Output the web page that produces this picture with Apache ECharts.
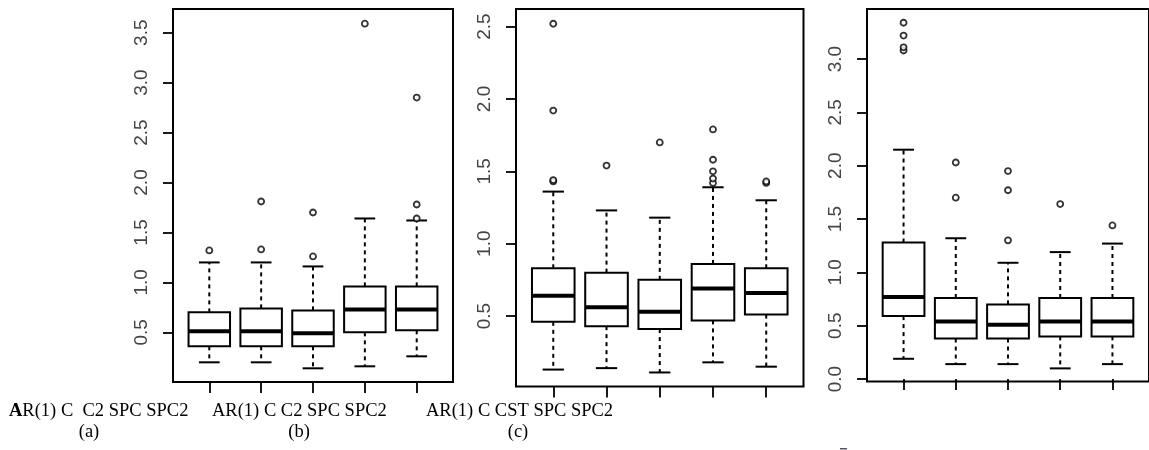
<!DOCTYPE html>
<html>
<head>
<meta charset="utf-8">
<script src="https://cdn.jsdelivr.net/npm/echarts@6/dist/echarts.min.js"></script>
<style>
  html, body { margin: 0; padding: 0; background: #fff; }
  #chart { width: 1149px; height: 450px; }
</style>
</head>
<body>
<div id="chart"></div>
<script>
// ---------------- data ----------------
const methodsA = ['AR(1)', 'C', 'C2', 'SPC', 'SPC2'];
const methodsB = ['AR(1)', 'C', 'C2', 'SPC', 'SPC2'];
const methodsC = ['AR(1)', 'C', 'CST', 'SPC', 'SPC2'];

// panel (a)
const lowA  = [0.20, 0.20, 0.14, 0.16, 0.26];
const q1A   = [0.36, 0.36, 0.36, 0.50, 0.52];
const medA  = [0.51, 0.51, 0.49, 0.73, 0.73];
const q3A   = [0.70, 0.74, 0.72, 0.96, 0.96];
const highA = [1.20, 1.20, 1.16, 1.64, 1.62];
const outA  = [[1, 1.32], [2, 1.33], [2, 1.81], [3, 1.26], [3, 1.70], [4, 3.59], [5, 1.64], [5, 1.78], [5, 2.85]];

// panel (b)
const lowB  = [0.13, 0.14, 0.11, 0.18, 0.15];
const q1B   = [0.46, 0.43, 0.41, 0.47, 0.51];
const medB  = [0.64, 0.56, 0.53, 0.69, 0.66];
const q3B   = [0.83, 0.80, 0.75, 0.86, 0.83];
const highB = [1.36, 1.23, 1.18, 1.39, 1.30];
const outB  = [[1, 1.43], [1, 1.44], [1, 1.92], [1, 2.52], [2, 1.54], [3, 1.70], [4, 1.42], [4, 1.45], [4, 1.50], [4, 1.58], [4, 1.79], [5, 1.42], [5, 1.43]];

// panel (c)
const lowC  = [0.19, 0.14, 0.14, 0.10, 0.14];
const q1C   = [0.59, 0.38, 0.38, 0.40, 0.40];
const medC  = [0.77, 0.54, 0.51, 0.54, 0.54];
const q3C   = [1.28, 0.76, 0.70, 0.76, 0.76];
const highC = [2.15, 1.32, 1.09, 1.19, 1.27];
const outC  = [[1, 3.08], [1, 3.11], [1, 3.22], [1, 3.34], [2, 1.70], [2, 2.03], [3, 1.30], [3, 1.77], [3, 1.95], [4, 1.64], [5, 1.44]];

// tick labels
const yTicksA = [0.5, 1.0, 1.5, 2.0, 2.5, 3.0, 3.5];
const yTicksB = [0.5, 1.0, 1.5, 2.0, 2.5];
const yTicksC = [0.0, 0.5, 1.0, 1.5, 2.0, 2.5, 3.0];
const xTicks  = [1, 2, 3, 4, 5];

// bottom captions
const captionA = 'AR(1) C  C2 SPC SPC2';
const captionB = 'AR(1) C C2 SPC SPC2';
const captionC = 'AR(1) C CST SPC SPC2';
const panelTags = ['(a)', '(b)', '(c)'];

// ---------------- build ----------------
function boxRows(methods, low, q1, med, q3, high) {
  return methods.map((m, i) => [i + 1, low[i], q1[i], med[i], q3[i], high[i]]);
}

const BOXW = 0.8, CAPW = 0.4;
function renderBox(params, api) {
  const x = api.value(0);
  const lo = api.value(1), a = api.value(2), md = api.value(3), b = api.value(4), hi = api.value(5);
  const half = api.size([BOXW, 0])[0] / 2;
  const capHalf = api.size([CAPW, 0])[0] / 2;
  const pLo = api.coord([x, lo]), pA = api.coord([x, a]), pM = api.coord([x, md]);
  const pB = api.coord([x, b]), pHi = api.coord([x, hi]);
  const cx = pM[0];
  const dashed = { stroke: '#000', lineWidth: 2, lineDash: [4, 4], fill: null };
  const solid = { stroke: '#000', lineWidth: 2, fill: null };
  return {
    type: 'group',
    children: [
      { type: 'line', shape: { x1: cx, y1: pB[1], x2: cx, y2: pHi[1] }, style: dashed },
      { type: 'line', shape: { x1: cx, y1: pA[1], x2: cx, y2: pLo[1] }, style: dashed },
      { type: 'line', shape: { x1: cx - capHalf, y1: pHi[1], x2: cx + capHalf, y2: pHi[1] }, style: solid },
      { type: 'line', shape: { x1: cx - capHalf, y1: pLo[1], x2: cx + capHalf, y2: pLo[1] }, style: solid },
      { type: 'rect', shape: { x: cx - half, y: pB[1], width: half * 2, height: pA[1] - pB[1] },
        style: { stroke: '#000', lineWidth: 2, fill: '#fff' } },
      { type: 'line', shape: { x1: cx - half, y1: pM[1], x2: cx + half, y2: pM[1] },
        style: { stroke: '#000', lineWidth: 4 } }
    ]
  };
}

const grids = [
  { left: 173, top: 9, width: 280, height: 373 },
  { left: 516, top: 9, width: 287.5, height: 377.5 },
  { left: 867, top: 9, width: 289, height: 372.5 }
].map(g => Object.assign(g, { show: true, borderColor: '#000', borderWidth: 2, backgroundColor: 'transparent' }));

const yRanges = [[0.003, 3.737], [0.013, 2.622], [-0.023, 3.469]];
const yTicks = [yTicksA, yTicksB, yTicksC];

const xAxes = grids.map((g, i) => ({
  type: 'value', gridIndex: i, min: 0.3, max: 5.7,
  axisLine: { show: false },
  splitLine: { show: false },
  axisLabel: { show: false },
  axisTick: { show: true, customValues: xTicks, length: 11, lineStyle: { color: '#000', width: 1.8 } }
}));

const yAxes = grids.map((g, i) => ({
  type: 'value', gridIndex: i, min: yRanges[i][0], max: yRanges[i][1],
  axisLine: { show: false },
  splitLine: { show: false },
  axisTick: { show: true, customValues: yTicks[i], length: 10, lineStyle: { color: '#000', width: 1.8 } },
  axisLabel: {
    show: true, customValues: yTicks[i], rotate: 90, margin: 22,
    formatter: v => Number(v).toFixed(1),
    fontFamily: 'Liberation Sans, Arial, sans-serif', fontSize: 19, color: '#444'
  }
}));

const boxData = [
  boxRows(methodsA, lowA, q1A, medA, q3A, highA),
  boxRows(methodsB, lowB, q1B, medB, q3B, highB),
  boxRows(methodsC, lowC, q1C, medC, q3C, highC)
];
const outData = [outA, outB, outC];

const series = [];
boxData.forEach((rows, i) => {
  series.push({
    type: 'custom', xAxisIndex: i, yAxisIndex: i, data: rows,
    renderItem: renderBox, encode: { x: 0, y: [1, 2, 3, 4, 5] }, z: 2, silent: true
  });
  series.push({
    type: 'scatter', xAxisIndex: i, yAxisIndex: i, data: outData[i],
    symbol: 'circle', symbolSize: 6,
    itemStyle: { color: '#fff', borderColor: '#000', borderWidth: 1.8 }, z: 3, silent: true
  });
});

const serif = 'Liberation Serif, Times New Roman, serif';
const capStyle = (t) => ({
  text: t, fontFamily: serif, fontSize: 18.5, fill: '#000', align: 'left', verticalAlign: 'middle',
  rich: { b: { fontFamily: serif, fontSize: 18.5, fontWeight: 'bold', fill: '#000' },
          n: { fontFamily: serif, fontSize: 18.5, fill: '#000' } }
});
const tagStyle = (t) => ({ text: t, fontFamily: serif, fontSize: 18.5, fill: '#000', align: 'center', verticalAlign: 'middle' });

const graphic = [
  { type: 'text', x: 9, y: 411, style: capStyle('{b|' + captionA.charAt(0) + '}{n|' + captionA.slice(1) + '}') },
  { type: 'text', x: 212, y: 411, style: capStyle(captionB) },
  { type: 'text', x: 426, y: 411, style: capStyle(captionC) },
  { type: 'text', x: 89, y: 432, style: tagStyle(panelTags[0]) },
  { type: 'text', x: 299, y: 432, style: tagStyle(panelTags[1]) },
  { type: 'text', x: 518, y: 432, style: tagStyle(panelTags[2]) },
  { type: 'rect', shape: { x: 840, y: 448, width: 7, height: 1.5 }, style: { fill: '#556' } }
];

const chart = echarts.init(document.getElementById('chart'), null, { renderer: 'canvas' });
chart.setOption({
  animation: false,
  backgroundColor: '#fff',
  grid: grids,
  xAxis: xAxes,
  yAxis: yAxes,
  series: series,
  graphic: graphic
});
</script>
</body>
</html>
